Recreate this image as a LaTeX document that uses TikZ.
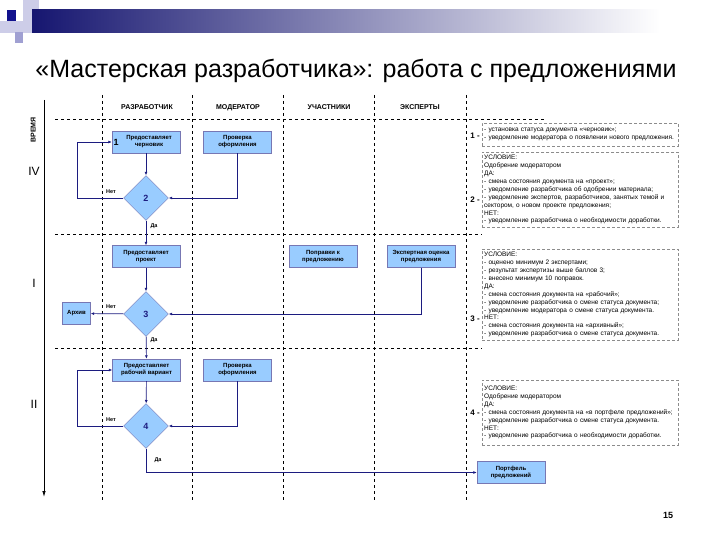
\documentclass[tikz,border=0pt]{standalone}
\usepackage{fontspec}
\setmainfont{Liberation Sans}
\usetikzlibrary{arrows.meta,positioning,shapes.geometric,shadows}
\definecolor{flowblue}{RGB}{153,204,255}
\definecolor{flownavy}{RGB}{28,28,128}
\definecolor{noteframe}{RGB}{140,140,140}
\definecolor{bardark}{RGB}{22,22,112}
\definecolor{barlight}{RGB}{205,205,232}
\definecolor{barmid}{RGB}{160,160,210}

\begin{document}
\begin{tikzpicture}[x=1pt,y=-1pt,
    act/.style={draw=flownavy!60, fill=flowblue,
                drop shadow={shadow xshift=0.9pt, shadow yshift=-0.9pt,
                             fill=black!85, opacity=1},
                minimum width=68pt, minimum height=22pt, inner sep=1pt,
                font=\fontsize{6}{7}\selectfont\bfseries, align=center},
    dec/.style={diamond, draw=flownavy!60, fill=flowblue,
                minimum width=45pt, minimum height=45pt, inner sep=0pt,
                font=\bfseries\small, text=flownavy},
    note/.style={draw=noteframe, densely dashed, anchor=north west,
                 text width=192pt, inner xsep=2pt, inner ysep=3pt, align=left,
                 font=\fontsize{6.5}{7.9}\selectfont},
    lane/.style={dashed, line width=0.6pt},
    head/.style={font=\fontsize{7}{8}\selectfont\bfseries,
                 text height=5pt, text depth=0pt},
    ans/.style={font=\fontsize{5.5}{6}\selectfont\bfseries, inner sep=0.5pt},
    num/.style={font=\fontsize{8}{9}\selectfont\bfseries},
    arr/.style={-{Latex[length=3.5pt,width=3pt]}, line width=0.7pt, color=flownavy}
  ]
  \useasboundingbox (0,0) rectangle (720,540);

  % top bar
  \fill[barlight] (0,21) rectangle (32,33);
  \fill[barlight] (23,0) rectangle (39,21);
  \shade[left color=bardark, right color=white] (32,10) rectangle (660,33);
  \fill[bardark!80!blue] (7,10) rectangle (16,21);
  \fill[barmid] (15,32) rectangle (23,43);

  \node[font=\fontsize{25}{30}\selectfont] (title) at (356,71)
    {«Мастерская разработчика»: работа с предложениями};

  % lanes
  \foreach \lx in {102,192,283,374,466}
    \draw[lane] (\lx,95) -- (\lx,502);
  \draw[lane] (55,119) -- (545,119);
  \foreach \ly in {234,348}
    \draw[lane] (55,\ly) -- (482,\ly);

  \node[head] (hdev) at (147,107) {РАЗРАБОТЧИК};
  \node[head] (hmod) at (238,107) {МОДЕРАТОР};
  \node[head] (hpart) at (329,107) {УЧАСТНИКИ};
  \node[head] (hexp) at (420,107) {ЭКСПЕРТЫ};

  % time axis
  \coordinate (ttop) at (44,100);
  \coordinate (tbot) at (44,497);
  \draw[-{Latex[length=6pt,width=3.5pt]}, line width=0.8pt] (ttop) -- (tbot);
  \node[head, rotate=90] (time) at (33,130) {ВРЕМЯ};
  \node[font=\fontsize{12}{14}\selectfont] (st4) at (34,171) {IV};
  \node[font=\fontsize{12}{14}\selectfont] (st1) at (34,283) {I};
  \node[font=\fontsize{12}{14}\selectfont] (st2) at (34,404) {II};

  % stage IV
  \node[act, label={[anchor=west, font=\bfseries\small, inner sep=1.5pt]west:1}]
    (draft) at (146,142) {\hspace*{6pt}Предоставляет\\\hspace*{6pt}черновик};
  \node[act] (check) at (237.5,142) {Проверка\\оформления};
  \node[dec] (cond2) at (146,198) {2};
  \draw[arr] (draft) -- (cond2);
  \draw[arr] (check.south) |- (cond2.east);
  \draw[arr] (cond2.west) -- ++(-46,0) |- (draft.west);
  \node[ans] (no2) at (111,192) {Нет};
  \node[ans] (yes2) at (154,226) {Да};

  % stage I
  \node[act] (project) at (146,256.5) {Предоставляет\\проект};
  \node[act] (amend) at (323,256.5) {Поправки к\\предложению};
  \node[act] (review) at (421,256.5) {Экспертная оценка\\предложения};
  \node[dec] (cond3) at (146,314) {3};
  \node[act, minimum width=28pt] (archive) at (76.5,313.5) {Архив};
  \draw[arr] (cond2) -- (project);
  \draw[arr] (project) -- (cond3);
  \draw[arr, line width=1pt] (review.south) |- (cond3.east);
  \draw[arr] (cond3) -- (archive);
  \node[ans] (no3) at (111,307) {Нет};
  \node[ans] (yes3) at (154,340) {Да};

  % stage II
  \node[act] (working) at (146.5,370) {Предоставляет\\рабочий вариант};
  \node[act] (recheck) at (237.5,370) {Проверка\\оформления};
  \node[dec] (cond4) at (146,426) {4};
  \node[act] (portfolio) at (511,472.5) {Портфель\\предложений};
  \draw[arr] (cond3) -- (working);
  \draw[arr] (working) -- (cond4);
  \draw[arr] (recheck.south) |- (cond4.east);
  \draw[arr] (cond4.west) -- ++(-46,0) |- (working.west);
  \draw[arr] (cond4.south) |- (portfolio.west);
  \node[ans] (no4) at (111,420) {Нет};
  \node[ans] (yes4) at (158,460) {Да};

  % conditions
  \node[num] (n1) at (475,136) {1 -};
  \node[num] (n2) at (475,200) {2 -};
  \node[num] (n3) at (475,319) {3 -};
  \node[num] (n4) at (475,413) {4 -};

  \node[note, minimum height=23pt] (rule1) at (482,123) {%
    - установка статуса документа «черновик»;\\
    - уведомление модератора о появлении нового предложения.};
  \node[note] (rule2) at (482,152) {%
    УСЛОВИЕ:\\
    Одобрение модератором\\
    ДА:\\
    - смена состояния документа на «проект»;\\
    - уведомление разработчика об одобрении материала;\\
    - уведомление экспертов, разработчиков, занятых темой и\\
    сектором, о новом проекте предложения;\\
    НЕТ:\\
    - уведомление разработчика о необходимости доработки.};
  \node[note] (rule3) at (482,249) {%
    УСЛОВИЕ:\\
    - оценено минимум 2 экспертами;\\
    - результат экспертизы выше баллов 3;\\
    - внесено минимум 10 поправок.\\
    ДА:\\
    - смена состояния документа на «рабочий»;\\
    - уведомление разработчика о смене статуса документа;\\
    - уведомление модератора о смене статуса документа.\\
    НЕТ:\\
    - смена состояния документа на «архивный»;\\
    - уведомление разработчика о смене статуса документа.};
  \node[note, minimum height=65pt] (rule4) at (482,380) {%
    УСЛОВИЕ:\\
    Одобрение модератором\\
    ДА:\\
    - смена состояния документа на «в портфеле предложений»;\\
    - уведомление разработчика о смене статуса документа.\\
    НЕТ:\\
    - уведомление разработчика о необходимости доработки.};

  \node[font=\fontsize{9}{10}\selectfont\bfseries] (page) at (668,515) {15};
\end{tikzpicture}
\end{document}
